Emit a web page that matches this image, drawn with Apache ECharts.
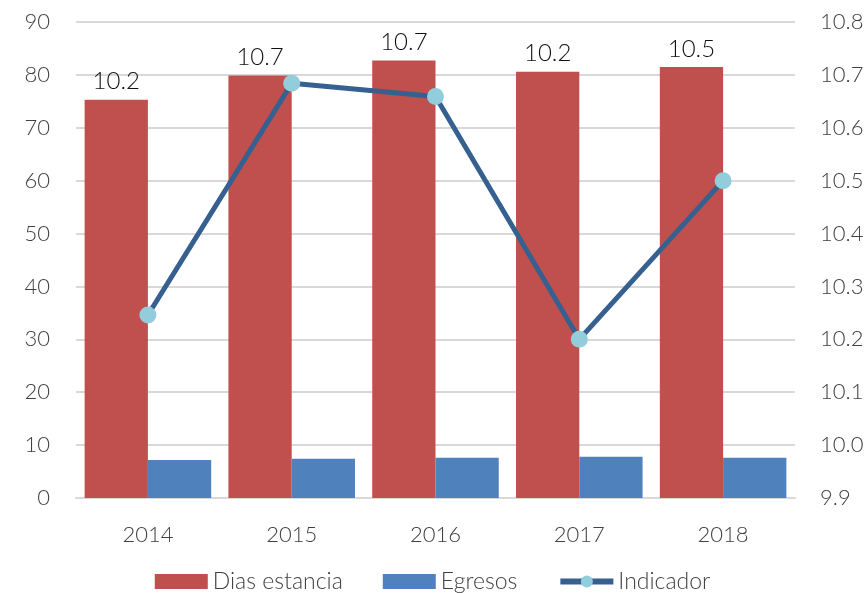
<!DOCTYPE html>
<html>
<head>
<meta charset="utf-8">
<script src="https://cdn.jsdelivr.net/npm/echarts@6/dist/echarts.min.js"></script>
<style>html,body{margin:0;padding:0;background:#fff;}#c{width:865px;height:593px;}</style>
</head>
<body>
<div id="c"></div>
<script>
const categories = ['2014', '2015', '2016', '2017', '2018'];
const diasEstancia = [75.3, 79.9, 82.7, 80.6, 81.5];
const egresos = [7.2, 7.4, 7.6, 7.8, 7.6];
const indicador = [10.246, 10.684, 10.659, 10.2, 10.5];
const leftTicks = { min: 0, max: 90, interval: 10 };
const rightTicks = { min: 9.9, max: 10.8, interval: 0.1 };

const FONT = 'Lato';
const W = 300;
const chart = echarts.init(document.getElementById('c'));
chart.setOption({
  animation: false,
  textStyle: { fontFamily: FONT },
  grid: { left: 76, right: 70, top: 22, bottom: 95, outerBoundsMode: 'none', containLabel: false },
  legend: {
    top: 565, left: 'center',
    itemWidth: 53, itemHeight: 15, itemGap: 40,
    textStyle: { fontSize: 23, color: '#404040', fontFamily: FONT, fontWeight: W },
    data: [
      { name: 'Dias estancia', icon: 'rect' },
      { name: 'Egresos', icon: 'rect' },
      { name: 'Indicador', lineStyle: { width: 6 } }
    ]
  },
  xAxis: {
    type: 'category', data: categories,
    axisLine: { show: true, lineStyle: { color: '#d9d9d9', width: 2 } },
    axisTick: { show: false },
    axisLabel: { fontSize: 22, color: '#404040', margin: 26, fontFamily: FONT, fontWeight: W }
  },
  yAxis: [
    {
      type: 'value', min: leftTicks.min, max: leftTicks.max, interval: leftTicks.interval,
      axisLine: { show: false }, axisTick: { show: false },
      splitLine: { lineStyle: { color: '#d9d9d9', width: 2 } },
      axisLabel: { fontSize: 22, color: '#404040', margin: 26, fontFamily: FONT, fontWeight: W }
    },
    {
      type: 'value', min: rightTicks.min, max: rightTicks.max, interval: rightTicks.interval,
      axisLine: { show: false }, axisTick: { show: false }, splitLine: { show: false },
      axisLabel: { fontSize: 22, color: '#404040', margin: 25, fontFamily: FONT, fontWeight: W,
        formatter: v => v.toFixed(1) }
    }
  ],
  series: [
    {
      name: 'Dias estancia', type: 'bar', data: diasEstancia,
      barGap: '0%', barCategoryGap: '12%',
      itemStyle: { color: '#c0504d' },
      label: { show: true, position: 'top', distance: 6, fontSize: 24, color: '#111', fontFamily: FONT, fontWeight: W,
        formatter: p => indicador[p.dataIndex].toFixed(1) }
    },
    {
      name: 'Egresos', type: 'bar', data: egresos,
      itemStyle: { color: '#4f81bd' }
    },
    {
      name: 'Indicador', type: 'line', yAxisIndex: 1, data: indicador,
      symbol: 'circle', symbolSize: 17,
      lineStyle: { color: '#35608f', width: 5 },
      itemStyle: { color: '#92cddc' },
      z: 5
    }
  ]
});
</script>
</body>
</html>
